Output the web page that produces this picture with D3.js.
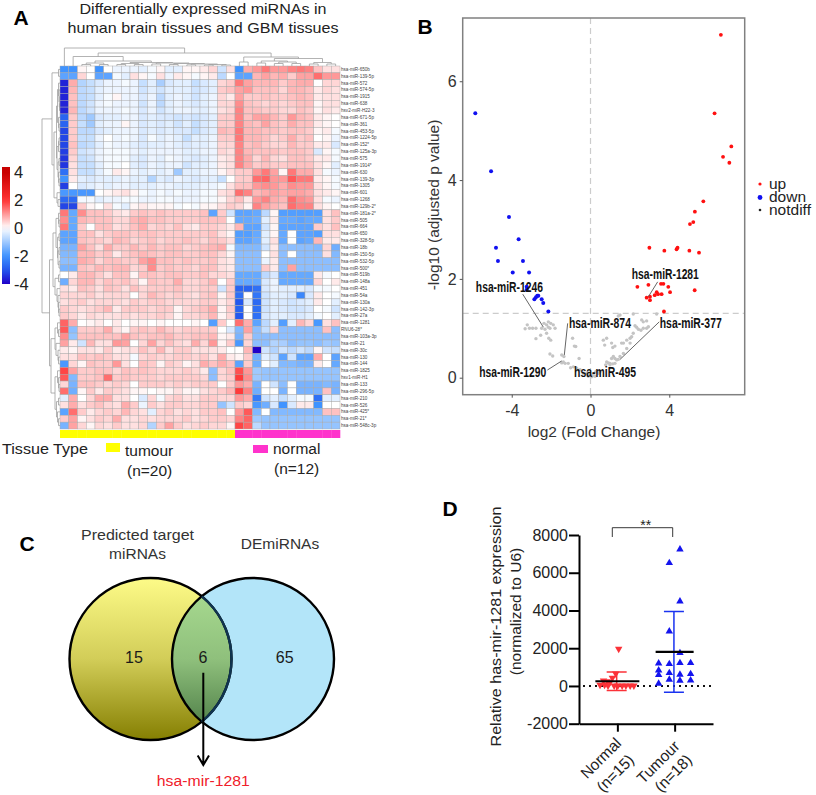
<!DOCTYPE html>
<html><head><meta charset="utf-8">
<script src="https://cdn.jsdelivr.net/npm/d3@7"></script>
<style>html,body{margin:0;background:#fff}svg{display:block}text{font-family:"Liberation Sans",Arial,sans-serif}</style>
</head><body><svg id="c" width="816" height="795"></svg>
<script>
// ---------- Panel A data ----------
const miRNAs=["hsa-miR-650b","hsa-miR-139-5p","hsa-miR-572","hsa-miR-574-5p","hsa-miR-1915","hsa-miR-638","hsv2-miR-H22-3","hsa-miR-671-5p","hsa-miR-361","hsa-miR-453-5p","hsa-miR-1224-5p","hsa-miR-152*","hsa-miR-125a-3p","hsa-miR-575","hsa-miR-1914*","hsa-miR-630","hsa-miR-139-3p","hsa-miR-1305","hsa-miR-601","hsa-miR-1268","hsa-miR-129b-2*","hsa-miR-181a-2*","hsa-miR-505","hsa-miR-664","hsa-miR-650","hsa-miR-328-5p","hsa-miR-18b","hsa-miR-150-5p","hsa-miR-532-5p","hsa-miR-500*","hsa-miR-519b","hsa-miR-148a","hsa-miR-451","hsa-miR-54a","hsa-miR-130a","hsa-miR-142-3p","hsa-miR-27a","hsa-miR-1281","RNU6-28*","hsa-miR-103a-3p","hsa-miR-21","hsa-miR-30c","hsa-miR-130","hsa-miR-144","hsa-miR-1825","hsv1-miR-H1","hsa-miR-133","hsa-miR-296-5p","hsa-miR-210","hsa-miR-526","hsa-miR-425*","hsa-miR-21*","hsa-miR-548c-3p"];
const heatValues=[
[-2,-2,.1,0,-2,0,-.2,-.2,-.2,-.3,-.1,.1,-.3,-.3,.1,.1,.2,.4,-.5,.3,-2,.8,1,1.3,1,1,1.2,1.3,1.2,.6,.3,.3],
[-1.7,-1.7,.4,0,-1.7,-1.7,-.1,-.3,.3,.1,-.1,.3,-.2,.2,.1,-.1,.1,.2,-.7,0,-1.7,-1.7,.7,.9,.7,.8,.5,.9,.9,1.4,1,1],
[-3.6,.8,-.8,-.6,-.4,-.2,-.2,-.1,-.2,-.6,-.3,-.9,-.4,-.3,-.3,-.6,-.4,-.3,.4,.5,1.3,.9,.7,.7,.7,.5,.7,.8,.8,0,.4,.4],
[-3.6,.7,-.7,-.6,-.3,-.2,-.2,-.2,-.2,-.5,-.3,-.5,-.3,-.3,-.3,-.5,-.4,-.3,.5,.6,.9,1,.6,.6,.6,.4,.7,.7,.6,.2,.4,.3],
[-3.6,.6,-.7,-.6,-.3,-.1,.1,-.2,-.2,-.4,-.2,-.7,-.3,-.2,-.3,-.5,-.3,-.2,.4,.2,.9,.5,.5,.6,.5,.5,.6,.7,.6,.2,.3,.3],
[-3.6,.6,-.7,-.5,-.2,-.1,-.2,-.2,-.2,-.5,-.2,-.7,-.3,-.2,-.3,-.4,-.3,-.2,.4,.4,1.1,.6,.5,.4,.5,.4,.5,.6,.6,.1,.3,.3],
[-3.6,.7,-.7,-.5,-.2,-.2,-.2,-.1,-.2,-.4,-.2,-.5,-.3,-.2,-.2,-.3,-.3,-.2,.3,.4,1.2,.6,.6,.5,.5,.4,.4,.6,.5,.1,.3,.2],
[-2.8,.5,-.7,-1,-.4,-.3,-.3,-.2,-.2,-.4,-.3,-.4,-.4,-.5,-.4,-.5,-.4,-.3,.5,.5,1.2,.6,.9,.9,.7,.5,1,.7,.6,.2,.1,0],
[-2.8,.5,-.6,-1,-.3,-.2,-.2,.1,-.2,-.4,-.3,-.4,-.3,-.5,-.3,-.6,-.4,-.3,.5,.5,1.2,.7,.6,.9,.6,.5,.8,.6,.6,.2,.1,0],
[-3.2,.5,-.7,-.7,-.4,-.3,-.2,-.2,-.2,-.4,-.3,-.4,-.3,-.4,-.4,-.6,-.4,-.3,.7,.6,1.3,.7,.7,.6,.6,.5,.6,.6,.5,.1,.2,-.1],
[-3.2,.5,-.6,-.6,-.2,0,-.2,-.1,-.2,-.4,-.1,-.3,-.2,-.3,-.6,-.3,-.3,-.2,.5,.5,1.3,.7,.7,.6,.4,.5,.8,.5,.6,0,.1,-.2],
[-3.2,.6,-.7,-.6,-.3,-.1,-.2,-.2,-.3,-.4,-.3,-.3,-.2,-.3,-.4,-.3,-.3,-.2,.4,.4,1.2,.6,.7,.5,.4,.4,.7,.5,.5,.2,.2,-.4],
[-3.3,.5,-.5,-.4,-.2,-.1,-.1,-.1,-.2,-.3,-.2,-.2,-.2,-.2,-.3,-.3,-.2,-.2,.4,.3,1.2,.7,.6,.6,.6,.5,.6,.6,.5,-.4,.1,-.1],
[-3.4,.4,-.6,-.5,-.2,-.1,-.1,-.1,-.3,-.4,-.2,-.3,-.1,-.2,-.3,-.4,-.3,-.2,.2,.3,1.2,.8,.4,.7,.4,.3,.6,.6,.5,.2,.2,-.1],
[-3.4,.3,-.6,-.6,-.3,-.1,-.1,0,-.3,-.4,-.2,-.3,-.2,-.2,-.5,-.3,-.3,-.2,.2,.3,1.2,.8,.5,.6,.5,.5,.6,.6,.6,.3,.1,-.3],
[-2.6,.3,-.6,-.6,-.3,-.1,.2,.1,-.2,-.3,-.2,-.3,-.2,-1,-.3,-.3,-.2,-.2,.1,.3,.5,.5,1,1.3,.9,.1,1.3,.8,.8,.3,-.1,-.2],
[-2,.2,-.3,-.4,-.3,-.3,-.3,-.2,-.3,-.3,-.8,-.3,-.4,-.2,-.3,-.4,-.3,-.3,-.6,0,.5,.5,1.4,1.5,1,1,1.6,1.3,1.3,.2,.1,-.1],
[-3.3,0,-.4,-.3,-.2,-.3,-.2,-.2,-.3,-.3,-.3,-.2,-.2,-.3,-.3,-.3,-.2,-.2,-.1,.3,.6,.6,1,1.1,1,.8,1.1,1,1,.3,.1,-.1],
[-1.9,-1.9,-1.9,-1.9,0,.1,.2,.3,.1,-.1,-.2,-.1,-.2,-.1,-.2,-.2,-.1,-.1,.3,.4,1.4,1.2,.7,.8,.9,.8,.9,.9,.8,.3,.2,.1],
[-2.7,-2.7,-.1,-.1,-.3,-.2,-.2,-.1,-.1,-.2,-.2,-.1,-.1,-.2,-.2,-.2,-.1,-.1,.1,.4,.6,.2,1,1.2,.8,.7,1.4,1.1,1,.3,-.1,-.2],
[-3.2,-3.2,.5,.1,0,.3,-.1,-.3,.1,.2,.1,.1,.1,-.1,0,-.1,.1,.1,.3,.5,.4,.1,1.2,.9,.7,.6,1.4,1.2,1.2,.3,.1,0],
[1.3,-1.6,1.1,.6,.6,.5,.3,.2,.5,.6,.5,.6,.5,.5,.5,.5,.6,-1.7,.5,-.5,-1.7,-1.7,-1.6,-.7,.1,-1.8,-1.8,-1.8,-1.8,-1.8,.3,.6],
[1.1,-1.6,.7,.6,.6,.6,.4,.4,.7,.8,.6,.6,.5,.5,.5,.5,.6,.6,.6,0,-1.6,-1.6,-1.5,-.3,.2,-1.6,-1.6,-1.7,-1.6,-1.6,.3,.5],
[1.3,-1.6,.5,0,.6,.6,.3,.4,.6,.8,.4,.5,.4,.6,.3,.2,.5,.5,.4,.2,.7,-1.7,-1.7,-.5,.1,-1.7,-1.7,-1.7,-1.7,.5,.3,.6],
[-1.7,-1.7,.6,.6,.3,.5,.6,.6,.5,.6,.6,.5,.5,.5,.5,.5,.5,.6,.3,.1,-1.8,-1.8,-1.6,-.3,.1,-1.6,0,-1.7,-1.7,-1.8,.3,.3],
[-1.7,-1.7,.6,.5,.5,.4,.7,.6,.4,.5,.6,.4,.5,.5,.6,.5,.4,.6,.5,.3,-1.7,-1.7,-1.5,-.3,.3,-1.6,0,-1.7,-1.6,.7,.2,.2],
[-1.4,-1.4,.9,.6,.3,.8,.5,.5,.7,.5,.7,.5,.6,.6,.4,.5,.6,.7,.8,-.1,-1.3,-1.3,-1.3,-.5,.2,-1.2,-1.2,-1.2,-1.2,-1.3,.4,-1.5],
[-1.3,-1.3,.7,.7,.5,.6,.2,.5,.6,.7,.6,.5,.6,.6,.5,.5,.6,.6,.4,.1,-1.2,-1.2,-1.2,0,.3,-1.2,0,-1.2,-1.2,-1.2,.3,-1.3],
[-1.2,-1.2,.8,.7,.4,.6,.6,.5,.5,.9,1.1,.6,.6,.5,.6,.5,.5,.6,.3,.2,-1.2,-1.2,-1.2,-.2,.2,-1.2,-1.2,-1.2,-1.2,-1.2,-1.2,-1.2],
[-1.4,-1.4,.6,.5,.7,.6,.7,.7,.4,.5,1.1,.5,.6,.5,.5,.4,.6,.6,.3,.2,-1.2,-1.2,-1.2,.5,.2,-1.2,.9,-1.2,-1.2,-1.2,-1.2,-1.2],
[0,.2,.7,.7,.5,.3,.6,.6,.1,.6,.6,.5,.6,.6,.5,.5,.6,.4,.4,.3,-1.6,-1.6,-1.6,-.7,-.4,-1.6,-1.6,-1.6,-1.6,.2,-.1,0],
[-1.5,.4,.7,.7,.4,.6,.5,.6,.4,.1,.6,.5,.5,.8,.4,.4,.5,.7,0,.5,-1.6,-1.6,-1.6,-.4,-.2,-1.6,-1.6,-1.6,-1.6,.4,0,.2],
[.3,.2,.6,.5,.3,.6,.5,.3,.6,.4,.5,.5,.5,.6,.4,.4,.5,.5,-.5,.5,-2.8,-2.8,-2.6,-.4,-.2,-.3,-.3,-.3,-.4,-.1,-.1,0],
[.4,.4,.4,.5,.3,.4,.4,.4,0,.4,.7,.5,.4,.5,.4,.3,.5,.6,.1,.5,-2.6,0,-2.5,-.5,-.3,-.3,-.4,-2.2,-.4,.2,0,-.1],
[.3,.4,.5,.3,.4,.4,.4,.3,.5,.4,.5,.5,.4,.4,.4,.4,.5,.5,.2,.4,-3,-.4,-2.7,-.5,-.3,-.4,-.5,-.4,-.3,.2,0,-.3],
[.5,.4,.3,.4,.5,.7,.2,.5,.5,.5,.4,.5,.5,.1,.4,.5,.6,.8,.1,.5,-2.8,0,-2.6,-.5,-.3,-.4,-.5,-.5,-.4,0,-.1,-.5],
[.5,.4,.2,.4,.3,.3,.3,.4,.3,.4,.4,.5,.4,.1,.4,.4,.5,.7,.1,.4,-3,0,-2.6,-.4,-.3,-.3,-.4,-.4,-.3,-.1,0,-.3],
[1.5,.8,0,.1,.2,0,.2,0,.1,.1,0,.1,0,0,0,.1,0,-1.8,.5,0,1.4,.8,-1.7,-.7,-.3,-1.8,-.3,.7,.4,-1.9,.3,.6],
[1.6,-1.2,.5,.5,.5,.8,.3,.1,.5,.6,.5,.7,.5,.4,.5,.5,.5,.5,0,-.4,-1.3,.9,-1.2,-.6,.4,-1.2,-1.2,-1.2,-1.2,-1.2,.6,-1.2],
[1.1,-1.1,.6,.6,.6,.6,.6,.9,.6,.5,.6,.6,.7,.5,.5,.6,.6,.7,.1,.2,-1.4,.5,-1.2,-1.2,-1.2,-1.2,-1.2,-1.2,-1.2,-1.2,-1.2,-1.2],
[.9,.2,-.5,.7,.3,.3,1,.9,0,.4,.9,.4,.6,.4,.3,.8,.4,1,.1,.5,-1.9,.4,-1.2,-1.2,-.8,-.9,-1.2,-1.1,-1.1,-1.2,-1,-1.1],
[.2,.1,.3,.3,.2,.5,.2,.3,.3,.6,.4,.7,.3,.5,.5,.3,.3,.3,.2,0,0,.7,-4,-.5,-.8,-.5,-.7,-.5,-.7,.1,-.5,-.6],
[.3,.3,.6,.5,.6,.5,.3,.3,-.1,.4,.5,.4,.4,.5,.5,.4,.5,.3,.8,.2,.1,.5,-1.5,-.3,-.5,-1.7,-.5,-1.7,-1.7,.8,0,-1.7],
[-1.9,.4,.1,.6,.5,.5,1,.3,0,.6,.5,.1,.5,.4,.1,.3,.8,.6,.8,.6,-1.7,.5,-1.5,0,-.3,-1.3,-1.3,-1.4,-1.4,.2,0,-1.6],
[1.8,.9,.5,.5,.6,.6,.4,.6,.5,.6,.5,.4,.4,.4,.5,.4,.2,-1.2,.4,.6,1.7,1,-1,-1.1,-1.1,-1.1,-1.1,-1.1,-1.1,-1.1,-1.1,-1.1],
[1.6,-1.3,.5,.5,.6,1.4,.5,.6,.5,.5,.5,.4,.5,.5,.5,.5,.4,-1.2,.4,.5,1.9,1.1,-1,-1.1,-1.1,-1.1,-1.1,-1.1,-1.1,-1.1,-1.1,-1.1],
[.4,-1.4,.6,.6,.5,.4,.5,.4,0,.5,.5,.5,.4,.5,.4,.5,.5,.5,0,.5,1,.8,-1.4,0,-.5,-1.2,0,-1.4,-1.4,-1.4,-1.3,-1.4],
[1.4,-1.5,.1,.5,.2,.5,.4,.3,.1,.1,0,.1,.1,.3,.1,.1,.3,.4,.5,.7,1.9,1.2,-1.5,0,0,-1.4,0,-1.4,-1.4,-1.4,.6,-1.4],
[-.3,.8,0,.4,.8,.8,.3,.3,0,-.4,.4,-.1,.4,.5,.3,.3,.5,.5,.4,.4,1,.8,-2.4,-.5,-.3,-.6,-.3,-.1,-.1,-2.6,-.3,-.3],
[.3,.8,.3,.5,.6,.4,.3,.8,.5,-.2,.5,.3,.5,.5,.4,.4,.5,.5,-1.1,-.5,.5,.4,-1.9,-1.5,-.4,-2,-.4,.2,.2,-2,0,0],
[-1.7,1.4,.5,.2,.4,.5,.4,.7,.4,.3,-.3,.4,.5,.3,.4,.3,.5,.5,.6,0,1,1.6,-1.3,0,-1.3,-1.3,-1.3,-1.3,-1.3,-1.3,.6,.6],
[.5,.9,.1,.3,.5,.4,.8,.3,.3,.4,.3,.4,.4,.4,.5,.3,.4,.5,.5,.4,1.2,1.5,-1,-1.1,-1.1,-1.1,-1.1,-1.1,-1.1,-1.1,-1.1,-1.1],
[-1.4,.9,.4,.1,.4,.3,.5,.3,.3,.4,-.8,.5,.9,.5,.3,.4,.5,.4,.4,.1,1.8,1.5,-.7,-1.1,-1.1,-1.1,-1.1,-1.1,-1.1,-1.1,-1.1,-1.1]];
const tissueGroups=["tumour","tumour","tumour","tumour","tumour","tumour","tumour","tumour","tumour","tumour","tumour","tumour","tumour","tumour","tumour","tumour","tumour","tumour","tumour","tumour","normal","normal","normal","normal","normal","normal","normal","normal","normal","normal","normal","normal"];
const colorStops=[-4,-3,-2,0,2,4], colorRange=["#2000c8","#2458ee","#3f93ff","#ffffff","#ff3030","#c80000"];
const colorTicks=[4,2,0,-2,-4];
// dendrograms: [merge height, left, right]; leaves are column / row indices
const colTree=[18,0,[13,[9.5,1,[5,[3,[1.5,2,3],[1.5,4,5]],[3.5,[2.5,[1.5,6,7],[1.5,8,9]],[3,[2,10,11],[2.5,[1.5,12,13],[2,[1.2,14,15],[1.5,[1,16,17],[1,18,19]]]]]]]],[9,[4,20,21],[7.5,[5,[3,22,23],[4,[2.5,24,25],[2.5,26,27]]],[3.5,[2,28,29],[2,30,31]]]]]];
const rowTree=[18,[8,[1.5,0,1],[6,[3.5,[2.5,[1.5,2,[1,3,[.7,4,[.5,5,6]]]],[1.5,7,[1,8,9]]],[3,[1.5,[1,10,11],12],[2,[1,13,14],[1.5,15,[1,16,17]]]]],[3,18,[2,19,20]]]],[10.5,[7,[4,[1.5,21,[1,22,23]],[2.5,[1,24,25],[2,[1,26,27],[1,28,29]]]],[5,[1.5,30,31],[3,32,[2,33,[1.5,34,[1,35,36]]]]]],[9,[5,[2.5,37,[1.5,38,39]],[4,40,[2,41,[1.5,42,43]]]],[5,[2.5,44,[1.5,45,[1,46,47]]],[3.5,[1.5,48,49],[2.5,50,[1.5,51,52]]]]]]];
// ---------- Panel B data ----------
const upX=[6.62,6.30,7.15,6.73,7.05,5.73,5.30,5.22,5.05,2.99,3.75,4.37,4.42,5.02,5.51,2.38,2.94,3.58,3.70,3.95,4.04,5.29,3.36,3.26,3.43,3.61,2.85,3.02,3.02,3.73];
const upY=[6.94,5.35,4.68,4.47,4.35,3.57,3.36,3.15,3.11,2.63,2.57,2.60,2.63,2.57,2.53,1.84,1.88,1.90,1.90,1.84,1.73,1.77,1.73,1.67,1.69,1.69,1.62,1.64,1.57,1.34];
const downX=[-5.85,-5.05,-4.14,-3.65,-4.80,-4.70,-3.43,-3.95,-3.12,-3.24,-3.24,-2.70,-2.77,-2.85,-2.65,-2.48,-2.40,-2.14];
const downY=[5.35,4.18,3.25,2.80,2.63,2.36,2.36,2.13,2.13,1.84,1.78,1.66,1.63,1.59,1.66,1.59,1.51,1.34];
const notdiffX=[-3.32,-3.21,-3.10,-2.94,-2.77,-2.48,-2.31,-2.23,-2.14,-2.02,-1.89,-1.80,-2.14,-2.53,-2.77,-2.23,-2.12,-2.02,-2.06,-2.36,-2.06,-1.92,-1.46,-1.35,-1.38,-1.46,-1.29,-1.13,-1.01,-.87,-.58,-.75,-.91,-.82,.65,.72,.82,1.07,1.13,1.24,1.58,1.67,1.84,2.01,2.09,2.17,2.34,2.43,2.56,2.68,2.85,2.94,2.68,2.85,2.26,2.60,1.50,1.41,2.17,3.36,.82,.91,.99,1.07,1.16,1.24,1.33,1.50,1.67,1.84,2.01,.77,.99,1.13,1.24,1.41,-.03,.06,.14,.23,-.11,-.19,-.36,.26,.40,.48,-.53,-.70];
const notdiffY=[.99,1.07,1.00,1.00,1.00,1.00,.98,1.07,1.13,1.10,1.07,1.00,1.02,.86,.79,.90,.80,.76,1.00,1.10,.48,.44,.46,.43,.32,.30,.29,.29,.20,.22,.39,.63,.80,.64,.76,.66,.80,.70,.61,.64,.70,.70,.76,.80,.83,.90,1.02,.98,.96,1.00,1.00,1.03,1.13,1.15,1.05,1.17,1.27,1.25,1.29,1.29,.32,.30,.29,.39,.43,.39,.36,.43,.49,.59,.70,.26,.26,.28,.29,.37,.05,.02,.05,.03,.03,.09,.09,.12,.09,.12,.16,.19];
const volcanoLabels=["hsa-miR-1246","hsa-miR-1281","hsa-miR-874","hsa-miR-377","hsa-miR-1290","hsa-miR-495"];
const labelX=[-4.12,3.80,.48,5.09,-3.95,.74], labelY=[1.84,2.10,1.10,1.10,.115,.11];
const leaderX1=[-3.44,3.41,-1.16,3.49,-2.19,null], leaderY1=[1.69,1.94,1.10,1.13,.155,null];
const leaderX2=[-2.39,2.94,-1.33,1.50,-1.46,null], leaderY2=[1.02,1.64,.46,.37,.34,null];
const volcanoXTicks=[-4,0,4], volcanoYTicks=[0,2,4,6];
const legendNames=["up","down","notdiff"];
// ---------- Panel C data ----------
const vennSets=["Predicted target\nmiRNAs","DEmiRNAs"], vennCounts=[15,6,65];
// ---------- Panel D data ----------
const groupNames=["Normal","Tumour"], groupNs=["(n=15)","(n=18)"];
const normalValues=[1961,654,424,283,247,53,53,194,18,18,18,18,18,18,18];
const normalJitter=[.25,-.3,-.94,-2.6,-1.9,-3.25,-2.4,-1.4,-.6,.1,.9,1.6,2.4,3.1,-1.75];
const tumourValues=[7245,6520,4490,2900,1750,1200,1166,1220,1220,830,583,690,600,636,124,336,283,300];
const tumourJitter=[1,-1,1,-1,1,-3,-1,1,3,-3,-3,-1,1,3,-3,-1,1,3];
const groupMeans=[250,1802], groupSD=[495,2138];
const exprTicks=[-2000,0,2000,4000,6000,8000];

const svg=d3.select("#c");
const defs=svg.append("defs");
const txt=(x,y,s,size,opt={})=>{const t=svg.append("text").attr("x",x).attr("y",y).attr("font-size",size).attr("fill",opt.fill||"#222").attr("text-anchor",opt.anchor||"start").attr("dominant-baseline","central").text(s);
  if(opt.weight)t.attr("font-weight",opt.weight);
  if(opt.len)t.attr("textLength",opt.len).attr("lengthAdjust","spacingAndGlyphs");
  if(opt.rot!=null)t.attr("transform",`rotate(${opt.rot} ${x} ${y})`);return t;};

// ---- panel letters
[["A",21,17],["B",425,26],["C",27,543],["D",450,508]].forEach(d=>txt(d[1],d[2],d[0],21,{weight:"bold",fill:"#000",anchor:"middle"}));

// ---- A: heatmap
txt(203,9,"Differentially expressed miRNAs in",14.6,{anchor:"middle",len:247});
txt(203,28,"human brain tissues and GBM tissues",14.6,{anchor:"middle",len:271});
const hx=d3.scaleBand().domain(d3.range(32)).range([60,340]);
const hy=d3.scaleBand().domain(d3.range(53)).range([66,429]);
const hc=d3.scaleLinear().domain(colorStops).range(colorRange).clamp(true);
svg.append("g").selectAll("g").data(heatValues).join("g").each(function(row,r){
  d3.select(this).selectAll("rect").data(row).join("rect")
    .attr("x",(d,c)=>hx(c)).attr("y",hy(r)).attr("width",hx.bandwidth()).attr("height",hy.bandwidth())
    .attr("fill",d=>hc(d)).attr("stroke","#a8a8a8").attr("stroke-width",.45);
});
svg.append("g").selectAll("text").data(miRNAs).join("text").attr("x",341).attr("y",(d,i)=>hy(i)+hy.bandwidth()/2)
  .attr("dominant-baseline","central").attr("font-size",4.6).attr("fill","#444").text(d=>d);
svg.append("g").selectAll("rect").data(tissueGroups).join("rect").attr("x",(d,i)=>hx(i)).attr("y",430).attr("width",hx.bandwidth()+.3).attr("height",8)
  .attr("fill",d=>d==="tumour"?"#ffff00":"#ff33cc");
// dendrograms
function tree(node,g,posF,hF,horizontal){
  if(!Array.isArray(node))return{p:posF(node),h:0};
  const a=tree(node[1],g,posF,hF,horizontal),b=tree(node[2],g,posF,hF,horizontal),H=node[0];
  const pts=[[a.p,a.h],[a.p,H],[b.p,H],[b.p,b.h]].map(q=>horizontal?[hF(q[1]),q[0]]:[q[0],hF(q[1])]);
  g.append("path").attr("d",d3.line()(pts)).attr("fill","none").attr("stroke","#a0a0a0").attr("stroke-width",.8);
  return{p:(a.p+b.p)/2,h:H};
}
const colH=d3.scaleLinear().domain([0,18]).range([66,48]), rowH=d3.scaleLinear().domain([0,18]).range([60,42]);
tree(colTree,svg.append("g"),c=>hx(c)+hx.bandwidth()/2,colH,false);
tree(rowTree,svg.append("g"),r=>hy(r)+hy.bandwidth()/2,rowH,true);
// colour bar
const cbY=d3.scaleLinear().domain([4,-4]).range([172,284]);
const grad=defs.append("linearGradient").attr("id","cb").attr("x1",0).attr("x2",0).attr("y1",0).attr("y2",1);
d3.range(0,1.001,.05).forEach(t=>{const v=cbY.invert(167+t*117);grad.append("stop").attr("offset",t).attr("stop-color",hc(v));});
svg.append("rect").attr("x",2).attr("y",167).attr("width",8).attr("height",117).attr("fill","url(#cb)");
svg.append("g").selectAll("text").data(colorTicks).join("text").attr("x",14).attr("y",d=>cbY(d)).attr("dominant-baseline","central").attr("font-size",16.5).attr("fill","#222").text(d=>d);
// tissue legend
txt(2,448,"Tissue Type",15.5,{len:86});
svg.append("rect").attr("x",106).attr("y",443).attr("width",14).attr("height",9).attr("fill","#ffff00");
svg.append("rect").attr("x",253).attr("y",445).attr("width",15).attr("height",8).attr("fill","#ff33cc");
txt(125,450,"tumour",15.5);txt(127,470,"(n=20)",15.5);
txt(273,448,"normal",15.5);txt(274,468,"(n=12)",15.5);

// ---- B: volcano
const vx=d3.scaleLinear().domain([-6.49,7.83]).range([462.7,744.7]);
const vy=d3.scaleLinear().domain([-.344,7.28]).range([394.7,18]);
svg.append("line").attr("x1",vx(0)).attr("x2",vx(0)).attr("y1",vy(7.28)).attr("y2",vy(-.344)).attr("stroke","#ccc").attr("stroke-width",1.2).attr("stroke-dasharray","6 4");
svg.append("line").attr("x1",vx(-6.49)).attr("x2",vx(7.83)).attr("y1",vy(1.3)).attr("y2",vy(1.3)).attr("stroke","#ccc").attr("stroke-width",1.2).attr("stroke-dasharray","6 4");
svg.append("rect").attr("x",462.7).attr("y",18).attr("width",282).attr("height",376.7).attr("fill","none").attr("stroke","#808080").attr("stroke-width",1.5);
const pts=(X,Y,c,r)=>svg.append("g").selectAll("circle").data(X).join("circle").attr("cx",d=>vx(d)).attr("cy",(d,i)=>vy(Y[i])).attr("r",r).attr("fill",c);
pts(notdiffX,notdiffY,"#c4c4c4",1.7);pts(upX,upY,"#ff1010",1.9);pts(downX,downY,"#1010f0",2);
const axB=svg.append("g").attr("transform","translate(462.7,0)").call(d3.axisLeft(vy).tickValues(volcanoYTicks).tickSize(3).tickFormat(d3.format("d")));
const axBx=svg.append("g").attr("transform","translate(0,394.7)").call(d3.axisBottom(vx).tickValues(volcanoXTicks).tickSize(3).tickFormat(d=>d<0?"-"+Math.abs(d):d));
[axB,axBx].forEach(a=>{a.select(".domain").remove();a.selectAll("line").attr("stroke","#555");a.selectAll("text").attr("font-size",16).attr("fill","#333").attr("font-family","'Liberation Sans'");});
axBx.selectAll("text").attr("dy","0.95em");
volcanoLabels.forEach((s,i)=>{
  if(leaderX1[i]!=null)svg.append("line").attr("x1",vx(leaderX1[i])).attr("y1",vy(leaderY1[i])).attr("x2",vx(leaderX2[i])).attr("y2",vy(leaderY2[i])).attr("stroke","#555").attr("stroke-width",.9);
});
volcanoLabels.forEach((s,i)=>txt(vx(labelX[i]),vy(labelY[i]),s,14,{anchor:"middle",weight:"bold",fill:"#111",len:s.length>11?67:62}));
txt(433,205,"-log10 (adjusted p value)",15.5,{anchor:"middle",rot:-90,fill:"#333"});
txt(594,431,"log2 (Fold Change)",15.5,{anchor:"middle",fill:"#333"});
const legC=["#ff1010","#1010f0","#222"],legR=[1.6,2.4,1.3],legY=[184,197.5,210];
legendNames.forEach((s,i)=>{svg.append("circle").attr("cx",760).attr("cy",legY[i]).attr("r",legR[i]).attr("fill",legC[i]);txt(769,legY[i]-1,s,15.5,{fill:"#222"});});

// ---- C: venn
const lg=defs.append("linearGradient").attr("id","vl").attr("gradientUnits","userSpaceOnUse").attr("x1",0).attr("x2",0).attr("y1",578).attr("y2",740);
[[0,"#fdfb88"],[.5,"#d2cd58"],[1,"#857f02"]].forEach(d=>lg.append("stop").attr("offset",d[0]).attr("stop-color",d[1]));
const lm=defs.append("linearGradient").attr("id","vm").attr("gradientUnits","userSpaceOnUse").attr("x1",0).attr("x2",0).attr("y1",590).attr("y2",728);
[[0,"#a8da90"],[.5,"#8fc07c"],[1,"#4f7f48"]].forEach(d=>lm.append("stop").attr("offset",d[0]).attr("stop-color",d[1]));
defs.append("clipPath").attr("id","cl").append("circle").attr("cx",150.5).attr("cy",659).attr("r",81);
defs.append("clipPath").attr("id","cr").append("circle").attr("cx",253).attr("cy",659).attr("r",81);
const C=(cx,o)=>svg.append("circle").attr("cx",cx).attr("cy",659).attr("r",81).attr("fill",o.fill||"none").attr("stroke",o.stroke||"none").attr("stroke-width",2.4);
C(150.5,{fill:"url(#vl)"});C(253,{fill:"#b3e5f9"});
C(253,{fill:"url(#vm)"}).attr("clip-path","url(#cl)");
C(150.5,{stroke:"#000"});C(253,{stroke:"#000"});
C(150.5,{stroke:"#103450"}).attr("clip-path","url(#cr)");
const setA=vennSets[0].split("\n");
txt(137.5,534,setA[0],15.5,{anchor:"middle",fill:"#333",len:113});txt(137.5,553,setA[1],15.5,{anchor:"middle",fill:"#333"});
txt(280,543,vennSets[1],15.5,{anchor:"middle",fill:"#333"});
[134,203,284.7].forEach((x,i)=>txt(x,657,vennCounts[i],16,{anchor:"middle",fill:"#1a1a1a"}));
svg.append("path").attr("d","M203.3,672.7V764M197.7,755.5L203.3,765L209,755.5").attr("fill","none").attr("stroke","#000").attr("stroke-width",2);
txt(203.3,780.5,"hsa-mir-1281",15.5,{anchor:"middle",fill:"#f0202a",len:93});

// ---- D: dot plot
const dy=d3.scaleLinear().domain([-2000,8000]).range([723.7,535]);
const dx=d3.scalePoint().domain(groupNames).range([579,713]).padding(.67);
const jit=d3.scaleLinear().domain([-1,1]).range([-5.33,5.33]);
svg.append("line").attr("x1",583).attr("x2",713).attr("y1",dy(0)).attr("y2",dy(0)).attr("stroke","#111").attr("stroke-width",2).attr("stroke-dasharray","2 4");
const yAx=svg.append("g").attr("transform","translate(579,0)").call(d3.axisLeft(dy).tickValues(exprTicks).tickSize(10).tickSizeOuter(0).tickFormat(d=>d));
const xAx=svg.append("g").attr("transform","translate(0,723.7)").call(d3.axisBottom(dx).tickSize(8).tickSizeOuter(0).tickFormat(""));
[yAx,xAx].forEach(a=>{a.selectAll(".domain,line").attr("stroke","#000").attr("stroke-width",2);a.selectAll("text").attr("font-size",16).attr("fill","#222").attr("font-family","'Liberation Sans'");});
yAx.selectAll("text").attr("x",-11);
const tri=(vals,jt,g,c,rotate)=>svg.append("g").selectAll("path").data(vals).join("path").attr("d",d3.symbol(d3.symbolTriangle,24))
  .attr("transform",(d,i)=>`translate(${dx(g)+jit(jt[i])},${dy(d)})${rotate?" rotate(180)":""}`).attr("fill",c);
tri(normalValues,normalJitter,"Normal","#fb3238",true);
tri(tumourValues,tumourJitter,"Tumour","#1414ee",false);
const gCols=["#fb3238","#1a33f0"],capW=[10,10],meanW=[22,19];
groupNames.forEach((g,i)=>{
  const cx=dx(g)-.7,m=groupMeans[i],s=groupSD[i],a=svg.append("g").attr("fill","none").attr("stroke",gCols[i]).attr("stroke-width",1.5);
  a.append("path").attr("d",`M${cx},${dy(m-s)}V${dy(m+s)}M${cx-capW[i]},${dy(m-s)}H${cx+capW[i]}M${cx-capW[i]},${dy(m+s)}H${cx+capW[i]}`);
  svg.append("line").attr("x1",cx-meanW[i]+.7).attr("x2",cx+meanW[i]+.7).attr("y1",dy(m)).attr("y2",dy(m)).attr("stroke","#000").attr("stroke-width",2.2);
});
svg.append("path").attr("d","M612.3,537V527.7H672.7V537").attr("fill","none").attr("stroke","#222").attr("stroke-width",.9);
txt(645.7,525,"**",14,{anchor:"middle",fill:"#222"});
txt(495.5,626.5,"Relative has-mir-1281 expression",15.5,{anchor:"middle",rot:-90,fill:"#222",len:240});
txt(515,611.5,"(normalized to U6)",15.5,{anchor:"middle",rot:-90,fill:"#222"});
const nameXY=[[600.7,758],[658,762]],nXY=[[615,773],[673,773]];
groupNames.forEach((g,i)=>{txt(nameXY[i][0],nameXY[i][1],g,15.5,{anchor:"middle",rot:-45,fill:"#222"});txt(nXY[i][0],nXY[i][1],groupNs[i],15.5,{anchor:"middle",rot:-45,fill:"#222"});});
</script></body></html>
